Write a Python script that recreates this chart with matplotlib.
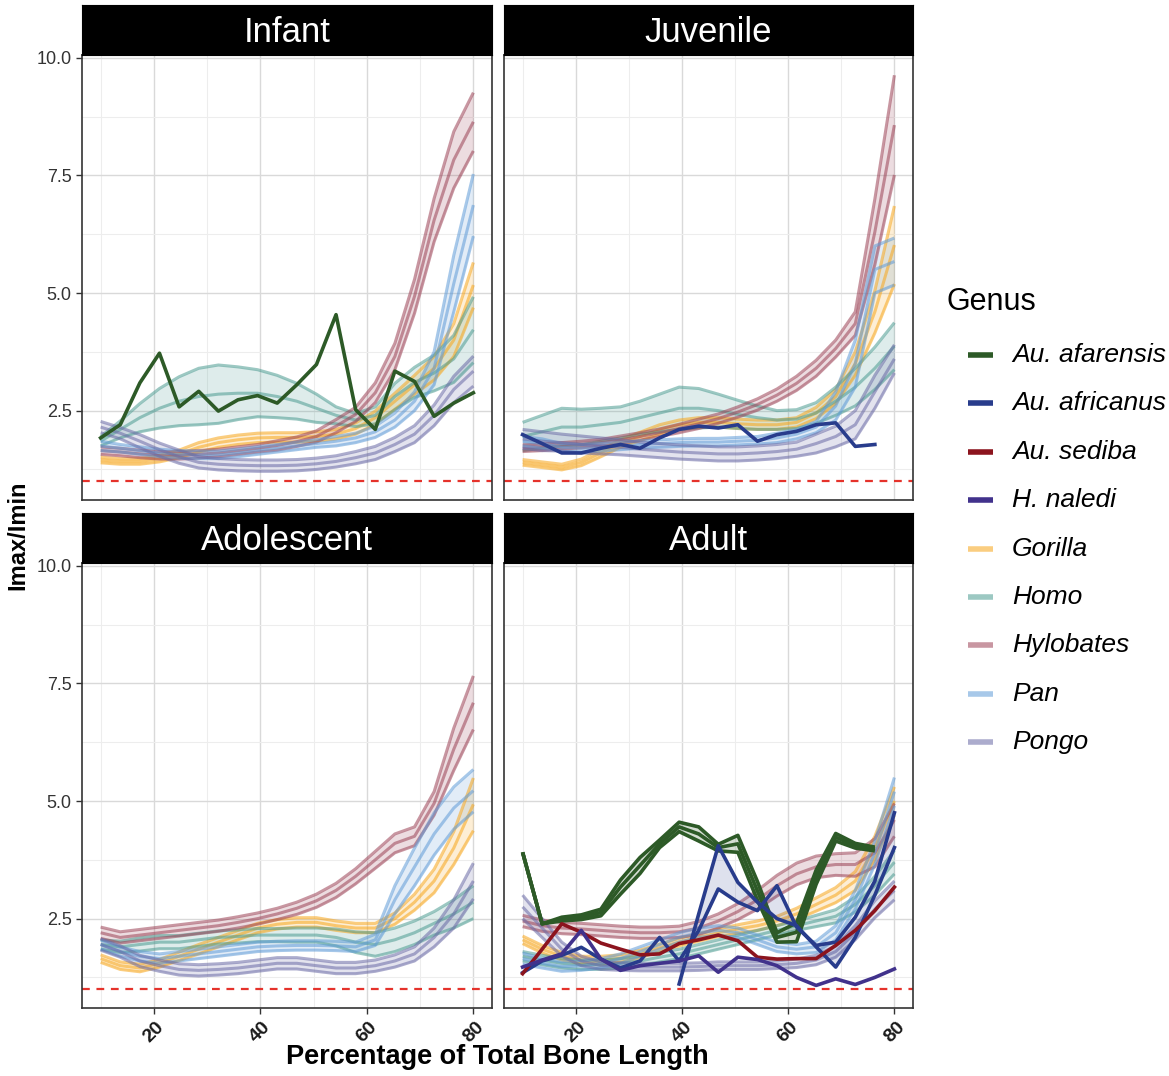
import numpy as np
import matplotlib
matplotlib.use("Agg")
import matplotlib.pyplot as plt
from matplotlib.lines import Line2D

plt.rcParams["font.family"] = ["Liberation Sans", "DejaVu Sans"]

# ---------------------------------------------------------------- data
x_pct = [10.0, 13.68, 17.37, 21.05, 24.74, 28.42, 32.11, 35.79, 39.47, 43.16,
         46.84, 50.53, 54.21, 57.89, 61.58, 65.26, 68.95, 72.63, 76.32, 80.0]

stages = ["Infant", "Juvenile", "Adolescent", "Adult"]
extant = ["Gorilla", "Homo", "Hylobates", "Pan", "Pongo"]
fossils = ["Au. afarensis", "Au. africanus", "Au. sediba", "H. naledi"]
genus_order = fossils + extant

genus_colors = {
    "Au. afarensis": "#2D5A27",
    "Au. africanus": "#283C8C",
    "Au. sediba": "#8C141E",
    "H. naledi": "#41328C",
    "Gorilla": "#F7A519",
    "Homo": "#4B9B91",
    "Hylobates": "#9B4155",
    "Pan": "#5F9BD7",
    "Pongo": "#6969A5",
}

# extant genera: mean ratio and half-width of the band
infant_gorilla_mid = [1.45, 1.42, 1.42, 1.48, 1.58, 1.72, 1.82, 1.88, 1.92, 1.93, 1.93, 1.95, 2.0, 2.12, 2.35, 2.7, 3.05, 3.4, 4.0, 5.17]
infant_gorilla_hw = [0.06, 0.06, 0.06, 0.07, 0.08, 0.1, 0.1, 0.1, 0.1, 0.1, 0.1, 0.1, 0.1, 0.12, 0.14, 0.17, 0.2, 0.25, 0.35, 0.48]
infant_homo_mid = [1.85, 2.1, 2.35, 2.55, 2.7, 2.8, 2.85, 2.87, 2.87, 2.8, 2.7, 2.55, 2.4, 2.3, 2.4, 2.8, 3.1, 3.3, 3.6, 4.22]
infant_homo_hw = [0.1, 0.18, 0.3, 0.42, 0.52, 0.6, 0.62, 0.56, 0.5, 0.45, 0.38, 0.3, 0.18, 0.14, 0.18, 0.28, 0.32, 0.38, 0.5, 0.7]
infant_hylobates_mid = [1.65, 1.62, 1.58, 1.55, 1.55, 1.57, 1.6, 1.65, 1.7, 1.76, 1.84, 1.95, 2.17, 2.42, 2.88, 3.65, 4.93, 6.55, 7.83, 8.64]
infant_hylobates_hw = [0.08, 0.08, 0.08, 0.08, 0.08, 0.08, 0.08, 0.08, 0.08, 0.1, 0.1, 0.12, 0.14, 0.15, 0.21, 0.28, 0.36, 0.46, 0.6, 0.62]
infant_pan_mid = [1.75, 1.7, 1.65, 1.6, 1.57, 1.56, 1.56, 1.6, 1.65, 1.7, 1.75, 1.8, 1.85, 1.92, 2.05, 2.3, 2.7, 3.4, 5.2, 6.87]
infant_pan_hw = [0.1, 0.08, 0.08, 0.08, 0.08, 0.08, 0.08, 0.08, 0.08, 0.08, 0.08, 0.08, 0.1, 0.1, 0.12, 0.15, 0.2, 0.35, 0.6, 0.66]
infant_pongo_mid = [2.15, 2.02, 1.85, 1.67, 1.52, 1.4, 1.36, 1.34, 1.33, 1.33, 1.34, 1.37, 1.42, 1.5, 1.6, 1.78, 2.0, 2.4, 2.95, 3.34]
infant_pongo_hw = [0.12, 0.12, 0.14, 0.14, 0.14, 0.12, 0.12, 0.12, 0.12, 0.12, 0.12, 0.12, 0.12, 0.13, 0.14, 0.15, 0.18, 0.22, 0.28, 0.32]

juvenile_gorilla_mid = [1.4, 1.35, 1.3, 1.4, 1.6, 1.8, 1.95, 2.1, 2.2, 2.25, 2.25, 2.22, 2.2, 2.2, 2.25, 2.45, 2.8, 3.5, 4.6, 6.02]
juvenile_gorilla_hw = [0.06, 0.06, 0.06, 0.07, 0.08, 0.08, 0.09, 0.1, 0.1, 0.1, 0.1, 0.1, 0.1, 0.1, 0.1, 0.12, 0.15, 0.25, 0.45, 0.83]
juvenile_homo_mid = [1.95, 2.05, 2.15, 2.15, 2.2, 2.25, 2.35, 2.45, 2.55, 2.55, 2.5, 2.42, 2.35, 2.3, 2.32, 2.45, 2.7, 3.0, 3.4, 3.87]
juvenile_homo_hw = [0.3, 0.35, 0.4, 0.38, 0.35, 0.33, 0.35, 0.4, 0.45, 0.42, 0.35, 0.3, 0.25, 0.2, 0.2, 0.22, 0.3, 0.4, 0.45, 0.5]
juvenile_hylobates_mid = [1.7, 1.72, 1.75, 1.78, 1.82, 1.88, 1.95, 2.03, 2.12, 2.22, 2.33, 2.47, 2.63, 2.83, 3.08, 3.4, 3.82, 4.35, 6.3, 8.57]
juvenile_hylobates_hw = [0.07, 0.07, 0.07, 0.07, 0.07, 0.08, 0.08, 0.08, 0.09, 0.1, 0.1, 0.11, 0.12, 0.13, 0.15, 0.17, 0.18, 0.25, 0.7, 1.06]
juvenile_pan_mid = [1.85, 1.8, 1.72, 1.7, 1.72, 1.75, 1.78, 1.8, 1.82, 1.83, 1.83, 1.85, 1.87, 1.92, 2.0, 2.15, 2.6, 3.5, 5.5, 5.67]
juvenile_pan_hw = [0.1, 0.1, 0.08, 0.08, 0.08, 0.08, 0.08, 0.08, 0.08, 0.08, 0.08, 0.08, 0.08, 0.1, 0.1, 0.12, 0.3, 0.5, 0.5, 0.5]
juvenile_pongo_mid = [1.9, 1.85, 1.82, 1.78, 1.75, 1.72, 1.68, 1.65, 1.62, 1.6, 1.58, 1.58, 1.6, 1.63, 1.68, 1.8, 1.95, 2.2, 2.9, 3.6]
juvenile_pongo_hw = [0.2, 0.2, 0.18, 0.18, 0.17, 0.16, 0.15, 0.15, 0.15, 0.15, 0.15, 0.15, 0.15, 0.15, 0.15, 0.2, 0.22, 0.3, 0.35, 0.3]

adolescent_gorilla_mid = [1.65, 1.5, 1.45, 1.55, 1.7, 1.85, 2.0, 2.15, 2.3, 2.38, 2.42, 2.42, 2.35, 2.3, 2.3, 2.5, 2.85, 3.3, 4.0, 4.93]
adolescent_gorilla_hw = [0.08, 0.08, 0.08, 0.08, 0.09, 0.1, 0.1, 0.1, 0.1, 0.1, 0.1, 0.1, 0.1, 0.1, 0.1, 0.12, 0.17, 0.25, 0.35, 0.56]
adolescent_homo_mid = [1.95, 1.9, 1.95, 2.0, 2.0, 2.05, 2.1, 2.12, 2.15, 2.15, 2.15, 2.15, 2.1, 2.0, 1.95, 2.05, 2.2, 2.4, 2.6, 2.85]
adolescent_homo_hw = [0.1, 0.12, 0.14, 0.14, 0.14, 0.14, 0.14, 0.14, 0.14, 0.14, 0.15, 0.15, 0.18, 0.22, 0.25, 0.25, 0.25, 0.25, 0.3, 0.35]
adolescent_hylobates_mid = [2.2, 2.1, 2.15, 2.2, 2.25, 2.3, 2.35, 2.42, 2.5, 2.6, 2.72, 2.88, 3.1, 3.4, 3.75, 4.1, 4.25, 4.95, 6.1, 7.09]
adolescent_hylobates_hw = [0.12, 0.12, 0.12, 0.12, 0.12, 0.12, 0.12, 0.12, 0.12, 0.12, 0.13, 0.14, 0.15, 0.16, 0.18, 0.2, 0.2, 0.25, 0.45, 0.57]
adolescent_pan_mid = [1.95, 1.8, 1.7, 1.65, 1.7, 1.75, 1.8, 1.85, 1.9, 1.92, 1.93, 1.93, 1.92, 1.9, 2.05, 2.9, 3.6, 4.3, 4.85, 5.22]
adolescent_pan_hw = [0.1, 0.1, 0.1, 0.1, 0.1, 0.1, 0.1, 0.1, 0.1, 0.1, 0.1, 0.1, 0.1, 0.1, 0.12, 0.3, 0.4, 0.45, 0.45, 0.45]
adolescent_pongo_mid = [1.95, 1.8, 1.6, 1.5, 1.42, 1.4, 1.42, 1.45, 1.5, 1.55, 1.55, 1.5, 1.45, 1.45, 1.5, 1.6, 1.75, 2.1, 2.6, 3.3]
adolescent_pongo_hw = [0.12, 0.12, 0.12, 0.12, 0.12, 0.12, 0.12, 0.12, 0.12, 0.12, 0.12, 0.12, 0.12, 0.12, 0.12, 0.13, 0.15, 0.2, 0.3, 0.38]

adult_gorilla_mid = [2.05, 1.85, 1.7, 1.62, 1.62, 1.65, 1.75, 1.88, 2.0, 2.1, 2.2, 2.28, 2.35, 2.45, 2.6, 2.8, 3.0, 3.3, 4.0, 5.0]
adult_gorilla_hw = [0.08, 0.08, 0.08, 0.08, 0.08, 0.08, 0.08, 0.08, 0.08, 0.08, 0.08, 0.09, 0.1, 0.1, 0.12, 0.14, 0.16, 0.2, 0.25, 0.3]
adult_homo_mid = [1.7, 1.62, 1.55, 1.52, 1.52, 1.55, 1.6, 1.68, 1.75, 1.85, 1.95, 2.05, 2.15, 2.25, 2.35, 2.45, 2.55, 2.8, 3.2, 3.7]
adult_homo_hw = [0.1, 0.1, 0.1, 0.1, 0.1, 0.1, 0.1, 0.1, 0.1, 0.1, 0.1, 0.1, 0.1, 0.1, 0.1, 0.12, 0.14, 0.16, 0.2, 0.25]
adult_hylobates_mid = [2.45, 2.35, 2.3, 2.28, 2.25, 2.22, 2.2, 2.2, 2.22, 2.3, 2.45, 2.65, 2.9, 3.2, 3.45, 3.6, 3.65, 3.65, 3.9, 4.6]
adult_hylobates_hw = [0.12, 0.12, 0.12, 0.12, 0.12, 0.12, 0.12, 0.12, 0.12, 0.14, 0.15, 0.17, 0.2, 0.22, 0.23, 0.23, 0.23, 0.25, 0.3, 0.35]
adult_pan_mid = [1.65, 1.55, 1.48, 1.5, 1.55, 1.65, 1.8, 1.95, 2.1, 2.2, 2.25, 2.2, 2.05, 1.9, 1.85, 1.9, 2.2, 2.9, 3.9, 5.2]
adult_pan_hw = [0.12, 0.1, 0.1, 0.1, 0.1, 0.1, 0.1, 0.1, 0.1, 0.1, 0.1, 0.1, 0.1, 0.1, 0.1, 0.12, 0.15, 0.2, 0.25, 0.3]
adult_pongo_mid = [2.75, 2.3, 1.85, 1.6, 1.5, 1.48, 1.47, 1.47, 1.47, 1.48, 1.5, 1.5, 1.5, 1.52, 1.55, 1.62, 1.8, 2.2, 2.7, 3.1]
adult_pongo_hw = [0.25, 0.2, 0.15, 0.1, 0.08, 0.08, 0.08, 0.08, 0.08, 0.08, 0.08, 0.08, 0.08, 0.08, 0.09, 0.1, 0.12, 0.15, 0.18, 0.2]

# fossil specimens
infant_afarensis = [1.92, 2.2, 3.09, 3.72, 2.58, 2.91, 2.49, 2.73, 2.82, 2.66, 3.05, 3.48, 4.54, 2.52, 2.1, 3.34, 3.12, 2.38, 2.66, 2.88]
juvenile_africanus = [1.99, 1.8, 1.6, 1.6, 1.7, 1.78, 1.7, 1.92, 2.1, 2.17, 2.13, 2.2, 1.85, 1.99, 2.06, 2.2, 2.24, 1.74, 1.78, np.nan]
adult_afarensis_mid = [3.91, 2.39, 2.49, 2.53, 2.63, 3.17, 3.63, 4.09, 4.45, 4.3, 4.01, 4.09, 3.09, 2.1, 2.21, 3.38, 4.23, 4.05, 3.98, np.nan]
adult_afarensis_hw = [0.0, 0.0, 0.04, 0.05, 0.07, 0.15, 0.17, 0.08, 0.1, 0.15, 0.07, 0.18, 0.2, 0.1, 0.2, 0.15, 0.08, 0.05, 0.04, np.nan]
adult_africanus_a = [np.nan, np.nan, np.nan, np.nan, np.nan, np.nan, np.nan, np.nan, 1.11, 2.6, 4.05, 3.27, 2.85, 2.5, 2.35, 1.9, 1.47, 2.1, 3.0, 4.01]
adult_africanus_b = [1.35, 1.6, 1.72, 1.89, 1.64, 1.45, 1.6, 2.1, 1.6, 2.25, 3.13, 2.85, 2.67, 3.2, 2.32, 1.93, 2.0, 2.53, 3.3, 4.75]
adult_sediba = [1.33, 1.85, 2.39, 2.21, 1.98, 1.85, 1.73, 1.75, 1.97, 2.05, 2.15, 2.03, 1.68, 1.64, 1.65, 1.65, 1.93, 2.25, 2.67, 3.17]
adult_naledi = [1.47, 1.62, 1.75, 2.25, 1.64, 1.4, 1.5, 1.55, 1.6, 1.71, 1.36, 1.68, 1.63, 1.5, 1.25, 1.08, 1.22, 1.1, 1.25, 1.43]

extant_bands = {
    "Infant": {
        "Gorilla": (infant_gorilla_mid, infant_gorilla_hw),
        "Homo": (infant_homo_mid, infant_homo_hw),
        "Hylobates": (infant_hylobates_mid, infant_hylobates_hw),
        "Pan": (infant_pan_mid, infant_pan_hw),
        "Pongo": (infant_pongo_mid, infant_pongo_hw),
    },
    "Juvenile": {
        "Gorilla": (juvenile_gorilla_mid, juvenile_gorilla_hw),
        "Homo": (juvenile_homo_mid, juvenile_homo_hw),
        "Hylobates": (juvenile_hylobates_mid, juvenile_hylobates_hw),
        "Pan": (juvenile_pan_mid, juvenile_pan_hw),
        "Pongo": (juvenile_pongo_mid, juvenile_pongo_hw),
    },
    "Adolescent": {
        "Gorilla": (adolescent_gorilla_mid, adolescent_gorilla_hw),
        "Homo": (adolescent_homo_mid, adolescent_homo_hw),
        "Hylobates": (adolescent_hylobates_mid, adolescent_hylobates_hw),
        "Pan": (adolescent_pan_mid, adolescent_pan_hw),
        "Pongo": (adolescent_pongo_mid, adolescent_pongo_hw),
    },
    "Adult": {
        "Gorilla": (adult_gorilla_mid, adult_gorilla_hw),
        "Homo": (adult_homo_mid, adult_homo_hw),
        "Hylobates": (adult_hylobates_mid, adult_hylobates_hw),
        "Pan": (adult_pan_mid, adult_pan_hw),
        "Pongo": (adult_pongo_mid, adult_pongo_hw),
    },
}

x_major = [20, 40, 60, 80]
x_minor = [10, 30, 50, 70]
y_major = [2.5, 5.0, 7.5, 10.0]
y_minor = [1.25, 3.75, 6.25, 8.75]
reference_ratio = 1.0

# ---------------------------------------------------------------- layout
W, H = 1169, 1076
fig = plt.figure(figsize=(W / 100, H / 100), dpi=100)
fig.patch.set_facecolor("white")


def fx(p):
    return p / W


def fy(p):
    return 1 - p / H


panel_px = {
    "Infant": (82, 55, 492, 500),
    "Juvenile": (504, 55, 913, 500),
    "Adolescent": (82, 563, 492, 1008),
    "Adult": (504, 563, 913, 1008),
}
strip_h = 50
x = np.array(x_pct)

LINE_ALPHA = 0.55
FILL_ALPHA = 0.18
LW_BAND = 2.2
LW_FOSSIL = 2.6


def draw_band(ax, mid, hw, color, fill_alpha=FILL_ALPHA, line_alpha=LINE_ALPHA, lw=LW_BAND):
    mid = np.array(mid, float)
    hw = np.array(hw, float)
    lo, hi = mid - hw, mid + hw
    ax.fill_between(x, lo, hi, color=color, alpha=fill_alpha, lw=0, zorder=2)
    for s in (lo, mid, hi):
        ax.plot(x, s, color=color, alpha=line_alpha, lw=lw, zorder=3,
                solid_joinstyle="round", solid_capstyle="butt")


for stage in stages:
    x0, y0, x1, y1 = panel_px[stage]
    ax = fig.add_axes([fx(x0), fy(y1), (x1 - x0) / W, (y1 - y0) / H])
    ax.set_xlim(6.5, 83.5)
    ax.set_ylim(0.6, 10.06)

    ax.set_xticks(x_major)
    ax.set_xticks(x_minor, minor=True)
    ax.set_yticks(y_major)
    ax.set_yticks(y_minor, minor=True)
    ax.grid(which="major", color="#d9d9d9", lw=1.0, zorder=0)
    ax.grid(which="minor", color="#ededed", lw=0.8, zorder=0)
    ax.set_axisbelow(True)
    for sp in ax.spines.values():
        sp.set_color("#333333")
        sp.set_linewidth(1.2)

    left = stage in ("Infant", "Adolescent")
    bottom = stage in ("Adolescent", "Adult")
    ax.tick_params(which="minor", length=0)
    ax.tick_params(which="major", length=4, width=1, color="#333333",
                   left=left, labelleft=left, bottom=bottom, labelbottom=bottom)
    if left:
        ax.set_yticklabels([f"{v:.1f}" for v in y_major], fontsize=13, color="#333333")
    if bottom:
        ax.set_xticklabels([str(v) for v in x_major], fontsize=14, fontweight="bold",
                           rotation=45, color="#1a1a1a")

    # reference line at isotropy
    ax.axhline(reference_ratio, color="#E5322B", lw=1.6, ls=(0, (3.5, 3)), zorder=1)

    # extant genera
    for g in extant:
        mid, hw = extant_bands[stage][g]
        draw_band(ax, mid, hw, genus_colors[g])

    # fossil specimens
    if stage == "Infant":
        ax.plot(x, infant_afarensis, color=genus_colors["Au. afarensis"], lw=LW_FOSSIL, zorder=5)
    if stage == "Juvenile":
        ax.plot(x, juvenile_africanus, color=genus_colors["Au. africanus"], lw=LW_FOSSIL, zorder=5)
    if stage == "Adult":
        ca = genus_colors["Au. africanus"]
        a = np.array(adult_africanus_a)
        b = np.array(adult_africanus_b)
        ax.fill_between(x, a, b, where=~np.isnan(a), color=ca, alpha=0.15, lw=0, zorder=4)
        ax.plot(x, a, color=ca, lw=LW_FOSSIL, zorder=5)
        ax.plot(x, b, color=ca, lw=LW_FOSSIL, zorder=5)
        ax.plot(x, adult_sediba, color=genus_colors["Au. sediba"], lw=LW_FOSSIL, zorder=5)
        ax.plot(x, adult_naledi, color=genus_colors["H. naledi"], lw=LW_FOSSIL, zorder=5)
        draw_band(ax, adult_afarensis_mid, adult_afarensis_hw, genus_colors["Au. afarensis"],
                  fill_alpha=0.2, line_alpha=1.0, lw=LW_FOSSIL)

    # facet strip
    sax = fig.add_axes([fx(x0), fy(y0), (x1 - x0) / W, strip_h / H])
    sax.set_facecolor("black")
    sax.set_xticks([])
    sax.set_yticks([])
    for sp in sax.spines.values():
        sp.set_color("black")
    sax.text(0.5, 0.44, stage, color="white", fontsize=25, ha="center", va="center",
             transform=sax.transAxes)

# axis titles
fig.text(fx(18), fy(535), "Imax/Imin", rotation=90, fontsize=17, fontweight="bold",
         ha="center", va="center")
fig.text(fx(497), fy(1057), "Percentage of Total Bone Length", fontsize=19.5,
         fontweight="bold", ha="center", va="center")

# legend
fig.text(fx(947), fy(302), "Genus", fontsize=22, ha="left", va="center")
for k, g in enumerate(genus_order):
    yy = fy(355 + k * 48.4)
    is_fossil = g in fossils
    fig.add_artist(Line2D([fx(968), fx(993)], [yy, yy], transform=fig.transFigure,
                          color=genus_colors[g], lw=4, alpha=1.0 if is_fossil else LINE_ALPHA,
                          solid_capstyle="butt"))
    fig.text(fx(1012), yy, g, fontsize=19, style="italic", ha="left", va="center")

fig.savefig("out.png", dpi=100, facecolor="white")
